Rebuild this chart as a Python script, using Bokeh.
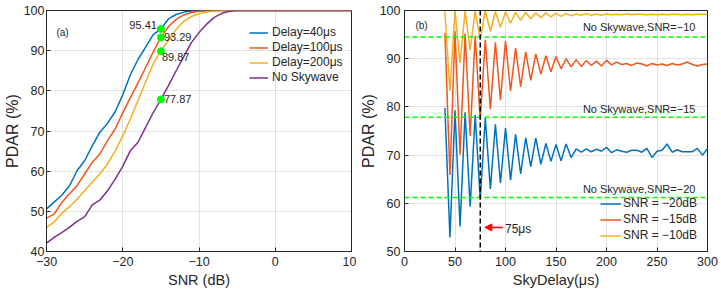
from bokeh.plotting import figure
from bokeh.layouts import row
from bokeh.models import (Legend, LegendItem, Span, Label, Arrow, NormalHead, FixedTicker)
from bokeh.embed import file_html
from bokeh.resources import INLINE

# ---------------- data: panel (a) ----------------
snr_db = [-30, -29, -28, -27, -26, -25, -24, -23, -22, -21, -20, -19, -18, -17, -16,
          -15, -14, -13, -12, -11, -10, -9, -8, -7, -6, -5, -4, -3, -2, -1, 0,
          1, 2, 3, 4, 5, 6, 7, 8, 9, 10]
pdar_delay40 = [50.6, 52.3, 54.0, 56.3, 60.1, 62.6, 66.3, 69.7, 71.9, 74.8, 79.0, 84.0, 87.8,
                90.9, 94.0, 95.41, 97.9, 99.0, 99.6, 99.9, 100.0, 100.0, 100.0, 100.0, 100.0,
                100.0, 100.0, 100.0, 100.0, 100.0, 100.0, 100.0, 100.0, 100.0, 100.0, 100.0,
                100.0, 100.0, 100.0, 100.0, 100.0]
pdar_delay100 = [48.3, 49.3, 52.2, 54.3, 56.4, 59.3, 62.2, 64.3, 67.6, 70.5, 74.5, 78.3, 82.0,
                 85.8, 89.7, 93.29, 96.0, 97.8, 98.9, 99.5, 99.8, 99.95, 100.0, 100.0, 100.0,
                 100.0, 100.0, 100.0, 100.0, 100.0, 100.0, 100.0, 100.0, 100.0, 100.0, 100.0,
                 100.0, 100.0, 100.0, 100.0, 100.0]
pdar_delay200 = [46.0, 47.3, 49.5, 51.1, 53.0, 55.1, 57.3, 59.3, 61.8, 65.0, 68.8, 73.0, 77.6,
                 82.2, 86.7, 89.87, 92.6, 95.3, 97.3, 98.5, 99.2, 99.6, 99.85, 99.95, 100.0,
                 100.0, 100.0, 100.0, 100.0, 100.0, 100.0, 100.0, 100.0, 100.0, 100.0, 100.0,
                 100.0, 100.0, 100.0, 100.0, 100.0]
pdar_noskywave = [42.1, 43.5, 44.7, 46.0, 47.5, 48.6, 51.6, 52.8, 55.1, 58.0, 61.2, 65.1, 67.2,
                  70.9, 74.6, 77.87, 81.3, 85.0, 88.5, 92.0, 94.5, 96.6, 98.3, 99.3, 99.8,
                  100.0, 100.0, 100.0, 100.0, 100.0, 100.0, 100.0, 100.0, 100.0, 100.0, 100.0,
                  100.0, 100.0, 100.0, 100.0, 100.0]
labels_a = ["Delay=40μs", "Delay=100μs", "Delay=200μs", "No Skywave"]
marked_snr = -15

# ---------------- data: panel (b) ----------------
sky_delay = [40, 45, 50, 55, 60, 65, 70, 75, 80, 85, 90, 95, 100, 105, 110, 115, 120, 125,
             130, 135, 140, 145, 150, 155, 160, 165, 170, 175, 180, 185, 190, 195, 200, 205,
             210, 215, 220, 225, 230, 235, 240, 245, 250, 255, 260, 265, 270, 275, 280, 285,
             290, 295, 300]
pdar_snr_m20 = [79.8, 52.9, 79.3, 55.2, 78.9, 59.3, 78.3, 60.8, 77.7, 63.0, 76.4, 64.2, 75.6,
                64.8, 74.3, 66.1, 73.6, 67.6, 73.5, 68.1, 72.4, 68.7, 72.2, 68.8, 72.3, 69.5,
                71.3, 70.6, 71.3, 70.7, 71.2, 70.8, 71.6, 70.5, 71.1, 70.8, 70.6, 71.0, 71.0,
                70.6, 71.4, 69.5, 70.8, 71.0, 72.3, 70.6, 71.1, 70.7, 70.7, 70.7, 71.4, 70.0,
                71.3]
pdar_snr_m15 = [95.3, 65.9, 95.7, 70.1, 95.2, 74.0, 94.7, 77.3, 93.9, 79.5, 93.4, 81.4, 93.7,
                83.3, 92.2, 84.2, 91.4, 85.5, 91.0, 86.8, 90.6, 87.3, 90.4, 87.9, 90.0, 88.3,
                89.8, 88.4, 89.6, 88.6, 89.5, 88.5, 89.7, 88.7, 89.3, 88.8, 89.0, 88.6, 89.1,
                88.9, 88.5, 89.0, 88.7, 88.9, 88.6, 89.0, 88.7, 88.9, 89.3, 88.8, 88.5, 88.8,
                88.9]
pdar_snr_m10 = [99.8, 83.3, 99.9, 89.1, 99.9, 91.8, 99.9, 94.0, 99.9, 95.7, 99.8, 96.5, 99.7,
                97.4, 99.6, 98.0, 99.6, 98.3, 99.5, 98.5, 99.5, 98.7, 99.4, 98.8, 99.4, 98.9,
                99.3, 99.0, 99.4, 99.0, 99.3, 99.0, 99.3, 99.1, 99.2, 99.1, 99.3, 99.1, 99.2,
                99.2, 99.1, 99.2, 99.1, 99.2, 99.1, 99.2, 99.2, 99.1, 99.2, 99.1, 99.2, 99.2,
                99.2]
labels_b = ["SNR = −20dB", "SNR = −15dB", "SNR = −10dB"]
ref_snrs = [-10, -15, -20]
marked_delay = 75

# ---------------- styling ----------------
FONT = "Liberation Sans"
AX = "#262626"
C_BLUE, C_ORANGE, C_YELLOW, C_PURPLE = "#0072BD", "#F0561D", "#F5AF1B", "#7E2F8E"
LIME = "#00FF00"


def style(p, xticks, yticks, xover=None):
    p.outline_line_color = AX
    p.outline_line_width = 1
    p.background_fill_color = "white"
    p.border_fill_color = "white"
    for ax, t in ((p.xaxis[0], xticks), (p.yaxis[0], yticks)):
        ax.ticker = FixedTicker(ticks=t)
        ax.major_tick_in = 4
        ax.major_tick_out = 0
        ax.minor_tick_line_color = None
        ax.axis_line_color = AX
        ax.major_tick_line_color = AX
        ax.major_label_text_font = FONT
        ax.major_label_text_font_size = "12.5px"
        ax.major_label_text_color = AX
        ax.axis_label_text_font = FONT
        ax.axis_label_text_font_style = "normal"
        ax.axis_label_text_color = AX
    p.xaxis[0].axis_label_text_font_size = "14.5px"
    p.yaxis[0].axis_label_text_font_size = "16px"
    if xover:
        p.xaxis[0].major_label_overrides = xover
    p.xaxis[0].major_label_standoff = 5
    p.xaxis[0].axis_label_standoff = 3
    p.yaxis[0].major_label_standoff = 2
    p.yaxis[0].axis_label_standoff = 0
    for g, t in ((p.xgrid[0], xticks), (p.ygrid[0], yticks)):
        g.ticker = FixedTicker(ticks=t)
        g.grid_line_color = AX
        g.grid_line_alpha = 0.13


# ---------------- panel (a) ----------------
p1 = figure(width=356, height=294, x_range=(-30, 10), y_range=(40, 100),
            output_backend="svg", toolbar_location=None,
            min_border_left=45, min_border_right=5, min_border_top=10, min_border_bottom=43,
            x_axis_label="SNR (dB)", y_axis_label="PDAR (%)")
style(p1, [-30, -20, -10, 0, 10], [40, 50, 60, 70, 80, 90, 100],
      xover={-30: "−30", -20: "−20", -10: "−10"})

series_a = [pdar_delay40, pdar_delay100, pdar_delay200, pdar_noskywave]
colors_a = [C_BLUE, C_ORANGE, C_YELLOW, C_PURPLE]
items_a = []
for ys, c, lab in zip(series_a, colors_a, labels_a):
    r = p1.line(snr_db, ys, line_color=c, line_width=1.5)
    items_a.append(LegendItem(label=lab, renderers=[r]))

idx = snr_db.index(marked_snr)
mark_vals = [s[idx] for s in series_a]
p1.scatter([marked_snr] * len(mark_vals), mark_vals, size=7, fill_color=LIME,
           line_color=LIME, marker="circle")
offsets = [(-4, 4, "right"), (3, 0, "left"), (1, -6, "left"), (3, 0, "left")]
for v, (dx, dy, al) in zip(mark_vals, offsets):
    p1.add_layout(Label(x=marked_snr, y=v, x_offset=dx, y_offset=dy, text=f"{v:.2f}",
                        text_align=al, text_baseline="middle", text_font=FONT,
                        text_font_size="11px", text_color=AX))
p1.add_layout(Label(x=-28.7, y=94.6, text="(a)", text_baseline="middle",
                    text_font=FONT, text_font_size="10px", text_color=AX))

leg_a = Legend(items=items_a, location=(203, 167), padding=0, margin=0, spacing=1,
               glyph_width=19, glyph_height=13, label_height=13, label_standoff=4,
               label_text_font=FONT, label_text_font_size="12px",
               label_text_color=AX, border_line_alpha=0, background_fill_alpha=0)
p1.add_layout(leg_a)

# ---------------- panel (b) ----------------
p2 = figure(width=365, height=294, x_range=(0, 300), y_range=(50, 100),
            output_backend="svg", toolbar_location=None,
            min_border_left=46, min_border_right=14, min_border_top=10, min_border_bottom=43,
            x_axis_label="SkyDelay(μs)", y_axis_label="PDAR (%)")
style(p2, [0, 50, 100, 150, 200, 250, 300], [50, 60, 70, 80, 90, 100])
p2.yaxis[0].major_label_standoff = 4

series_b = [pdar_snr_m20, pdar_snr_m15, pdar_snr_m10]
colors_b = [C_BLUE, C_ORANGE, C_YELLOW]
items_b = []
for ys, c, lab in zip(series_b, colors_b, labels_b):
    r = p2.line(sky_delay, ys, line_color=c, line_width=1.5)
    items_b.append(LegendItem(label=lab, renderers=[r]))

label_y = {-10: 96.5, -15: 79.6, -20: 63.0}
for s in ref_snrs:
    lvl = pdar_noskywave[snr_db.index(s)]
    p2.add_layout(Span(location=lvl, dimension="width", line_color=LIME,
                       line_width=1.5, line_dash="5 3"))
    p2.add_layout(Label(x=288, y=label_y[s], text=f"No Skywave,SNR=−{abs(s)}",
                        text_align="right", text_baseline="middle", text_font=FONT,
                        text_font_size="11px", text_color=AX))

p2.add_layout(Span(location=marked_delay, dimension="height", line_color="black",
                   line_width=1.5, line_dash="5 3"))
p2.add_layout(Arrow(end=NormalHead(size=7, fill_color="#FF0000", line_color="#FF0000"),
                    x_start=97.5, y_start=55, x_end=79.5, y_end=55,
                    line_color="#FF0000", line_width=1.5))
p2.add_layout(Label(x=99.5, y=54.6, text=f"{marked_delay}μs", text_baseline="middle",
                    text_font=FONT, text_font_size="12px", text_color=AX))
p2.add_layout(Label(x=10.8, y=96.9, text="(b)", text_baseline="middle",
                    text_font=FONT, text_font_size="10px", text_color=AX))

leg_b = Legend(items=items_b, location=(196, 9), padding=0, margin=0, spacing=2,
               glyph_width=21, glyph_height=13, label_height=13, label_standoff=2,
               label_text_font=FONT, label_text_font_size="12px",
               label_text_color=AX, border_line_alpha=0, background_fill_alpha=0)
p2.add_layout(leg_b)

layout = row(p1, p2)
open("out.html", "w").write(file_html(layout, INLINE))
